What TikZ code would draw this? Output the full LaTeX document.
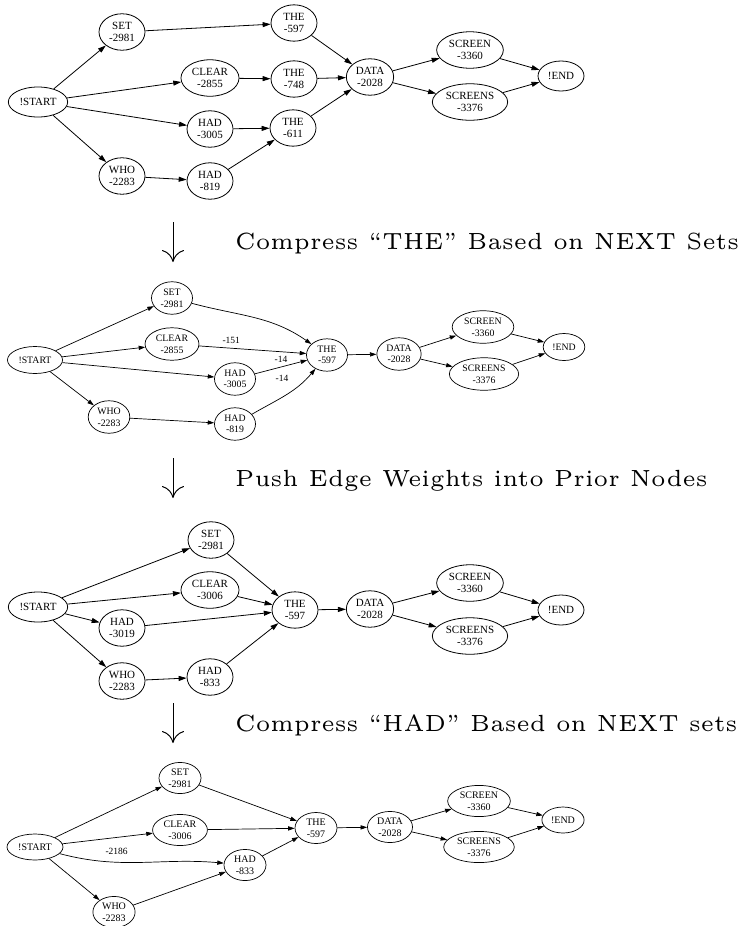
\documentclass[tikz,border=0pt]{standalone}
\usepackage{fontspec}
\setmainfont{Liberation Serif}
\newfontfamily\capfont{lmroman5-regular.otf}[FakeStretch=0.918]
\usetikzlibrary{arrows.meta,shapes.geometric}

\tikzset{
  bigstate/.style={ellipse, draw, line width=0.8pt, align=center,
    font=\fontsize{11}{12}\selectfont, inner xsep=2.5pt, inner ysep=3.2pt,
    minimum width=46pt, minimum height=30pt},
  smallstate/.style={ellipse, draw, line width=0.7pt, align=center,
    font=\fontsize{9.8}{11.6}\selectfont, inner xsep=3pt, inner ysep=2.4pt,
    minimum width=41pt, minimum height=27pt},
  midstate/.style={ellipse, draw, line width=0.7pt, align=center,
    font=\fontsize{10}{11.7}\selectfont, inner xsep=3pt, inner ysep=1.8pt,
    minimum width=42pt, minimum height=26pt},
  bigedge/.style={-{Triangle[length=8pt,width=5pt]}, line width=0.8pt},
  smalledge/.style={-{Triangle[length=6.5pt,width=4.2pt]}, line width=0.7pt},
  weight/.style={font=\fontsize{9.5}{10}\selectfont, inner sep=1pt},
  phase/.style={anchor=base west, inner sep=0pt,
    font=\capfont\fontsize{23.4}{28}\selectfont},
  phasearrow/.style={-{Computer Modern Rightarrow[length=12pt,width=22pt]},
    line width=1pt}
}

\begin{document}
\begin{tikzpicture}[x=1pt,y=-1pt]
  \useasboundingbox (0,0) rectangle (741,926);

  % before compression
  \node[bigstate] (a-start) at (38,102) {!START};
  \node[bigstate] (a-set) at (122,32) {SET\\-2981};
  \node[bigstate] (a-clear) at (210,78) {CLEAR\\-2855};
  \node[bigstate] (a-had1) at (210,129) {HAD\\-3005};
  \node[bigstate] (a-who) at (122,176) {WHO\\-2283};
  \node[bigstate] (a-had2) at (210,181) {HAD\\-819};
  \node[bigstate] (a-the1) at (294,23) {THE\\-597};
  \node[bigstate] (a-the2) at (294,79) {THE\\-748};
  \node[bigstate] (a-the3) at (293,128) {THE\\-611};
  \node[bigstate] (a-data) at (370,77) {DATA\\-2028};
  \node[bigstate] (a-screen) at (470,50) {SCREEN\\-3360};
  \node[bigstate] (a-screens) at (470,102) {SCREENS\\-3376};
  \node[bigstate] (a-end) at (561,76) {!END};
  \draw[bigedge] (a-start) -- (a-set);
  \draw[bigedge] (a-start) -- (a-clear);
  \draw[bigedge] (a-start) -- (a-had1);
  \draw[bigedge] (a-start) -- (a-who);
  \draw[bigedge] (a-set) -- (a-the1);
  \draw[bigedge] (a-clear) -- (a-the2);
  \draw[bigedge] (a-had1) -- (a-the3);
  \draw[bigedge] (a-who) -- (a-had2);
  \draw[bigedge] (a-had2) -- (a-the3);
  \draw[bigedge] (a-the1) -- (a-data);
  \draw[bigedge] (a-the2) -- (a-data);
  \draw[bigedge] (a-the3) -- (a-data);
  \draw[bigedge] (a-data) -- (a-screen);
  \draw[bigedge] (a-data) -- (a-screens);
  \draw[bigedge] (a-screen) -- (a-end);
  \draw[bigedge] (a-screens) -- (a-end);

  \coordinate (p1-top) at (173,222);
  \coordinate (p1-bot) at (173,262);
  \draw[phasearrow] (p1-top) -- (p1-bot);
  \node[phase] (p1-text) at (235,249) {Compress “THE” Based on NEXT Sets};

  % THE merged
  \node[smallstate] (b-start) at (35,360) {!START};
  \node[smallstate] (b-set) at (172,298) {SET\\-2981};
  \node[smallstate] (b-clear) at (172,344) {CLEAR\\-2855};
  \node[smallstate] (b-had1) at (235,379) {HAD\\-3005};
  \node[smallstate] (b-who) at (109,417) {WHO\\-2283};
  \node[smallstate] (b-had2) at (235,424) {HAD\\-819};
  \node[smallstate] (b-the) at (327,355) {THE\\-597};
  \node[smallstate] (b-data) at (399,354) {DATA\\-2028};
  \node[smallstate] (b-screen) at (483,327) {SCREEN\\-3360};
  \node[smallstate] (b-screens) at (484,374) {SCREENS\\-3376};
  \node[smallstate] (b-end) at (564,347) {!END};
  \draw[smalledge] (b-start) -- (b-set);
  \draw[smalledge] (b-start) -- (b-clear);
  \draw[smalledge] (b-start) -- (b-had1);
  \draw[smalledge] (b-start) -- (b-who);
  \draw[smalledge] (b-set) to[out=-15,in=145] (b-the);
  \draw[smalledge] (b-clear) -- node[weight, pos=0.3, above=3pt] (w-clear) {-151} (b-the);
  \draw[smalledge] (b-had1) -- node[weight, pos=0.5, above=3pt] (w-had1) {-14} (b-the);
  \draw[smalledge] (b-who) -- (b-had2);
  \draw[smalledge] (b-had2) to[out=30,in=-130] (b-the);
  \node[weight] (w-had2) at (282,378) {-14};
  \draw[smalledge] (b-the) -- (b-data);
  \draw[smalledge] (b-data) -- (b-screen);
  \draw[smalledge] (b-data) -- (b-screens);
  \draw[smalledge] (b-screen) -- (b-end);
  \draw[smalledge] (b-screens) -- (b-end);

  \coordinate (p2-top) at (173,458);
  \coordinate (p2-bot) at (173,498);
  \draw[phasearrow] (p2-top) -- (p2-bot);
  \node[phase] (p2-text) at (235,486) {Push Edge Weights into Prior Nodes};

  % weights pushed
  \node[bigstate] (c-start) at (38,607) {!START};
  \node[bigstate] (c-set) at (211,540) {SET\\-2981};
  \node[bigstate] (c-clear) at (210,590) {CLEAR\\-3006};
  \node[bigstate] (c-had1) at (122,628) {HAD\\-3019};
  \node[bigstate] (c-who) at (122,681) {WHO\\-2283};
  \node[bigstate] (c-had2) at (210,677) {HAD\\-833};
  \node[bigstate] (c-the) at (295,610) {THE\\-597};
  \node[bigstate] (c-data) at (370,609) {DATA\\-2028};
  \node[bigstate] (c-screen) at (470,583) {SCREEN\\-3360};
  \node[bigstate] (c-screens) at (470,636) {SCREENS\\-3376};
  \node[bigstate] (c-end) at (561,610) {!END};
  \draw[bigedge] (c-start) -- (c-set);
  \draw[bigedge] (c-start) -- (c-clear);
  \draw[bigedge] (c-start) -- (c-had1);
  \draw[bigedge] (c-start) -- (c-who);
  \draw[bigedge] (c-set) -- (c-the);
  \draw[bigedge] (c-clear) -- (c-the);
  \draw[bigedge] (c-had1) -- (c-the);
  \draw[bigedge] (c-who) -- (c-had2);
  \draw[bigedge] (c-had2) -- (c-the);
  \draw[bigedge] (c-the) -- (c-data);
  \draw[bigedge] (c-data) -- (c-screen);
  \draw[bigedge] (c-data) -- (c-screens);
  \draw[bigedge] (c-screen) -- (c-end);
  \draw[bigedge] (c-screens) -- (c-end);

  \coordinate (p3-top) at (173,703);
  \coordinate (p3-bot) at (173,743);
  \draw[phasearrow] (p3-top) -- (p3-bot);
  \node[phase] (p3-text) at (235,731) {Compress “HAD” Based on NEXT sets};

  % HAD merged
  \node[midstate] (d-start) at (35,847) {!START};
  \node[midstate] (d-set) at (180,778) {SET\\-2981};
  \node[midstate] (d-clear) at (180,830) {CLEAR\\-3006};
  \node[midstate] (d-had) at (245,865) {HAD\\-833};
  \node[midstate] (d-who) at (114,912) {WHO\\-2283};
  \node[midstate] (d-the) at (316,828) {THE\\-597};
  \node[midstate] (d-data) at (390,827) {DATA\\-2028};
  \node[midstate] (d-screen) at (479,801) {SCREEN\\-3360};
  \node[midstate] (d-screens) at (479,847) {SCREENS\\-3376};
  \node[midstate] (d-end) at (563,820) {!END};
  \draw[smalledge] (d-start) -- (d-set);
  \draw[smalledge] (d-start) -- (d-clear);
  \draw[smalledge] (d-start) to[out=-15,in=175] node[weight, pos=0.34, above=6pt] (w-start) {-2186} (d-had);
  \draw[smalledge] (d-start) -- (d-who);
  \draw[smalledge] (d-set) -- (d-the);
  \draw[smalledge] (d-clear) -- (d-the);
  \draw[smalledge] (d-who) -- (d-had);
  \draw[smalledge] (d-had) -- (d-the);
  \draw[smalledge] (d-the) -- (d-data);
  \draw[smalledge] (d-data) -- (d-screen);
  \draw[smalledge] (d-data) -- (d-screens);
  \draw[smalledge] (d-screen) -- (d-end);
  \draw[smalledge] (d-screens) -- (d-end);
\end{tikzpicture}
\end{document}
